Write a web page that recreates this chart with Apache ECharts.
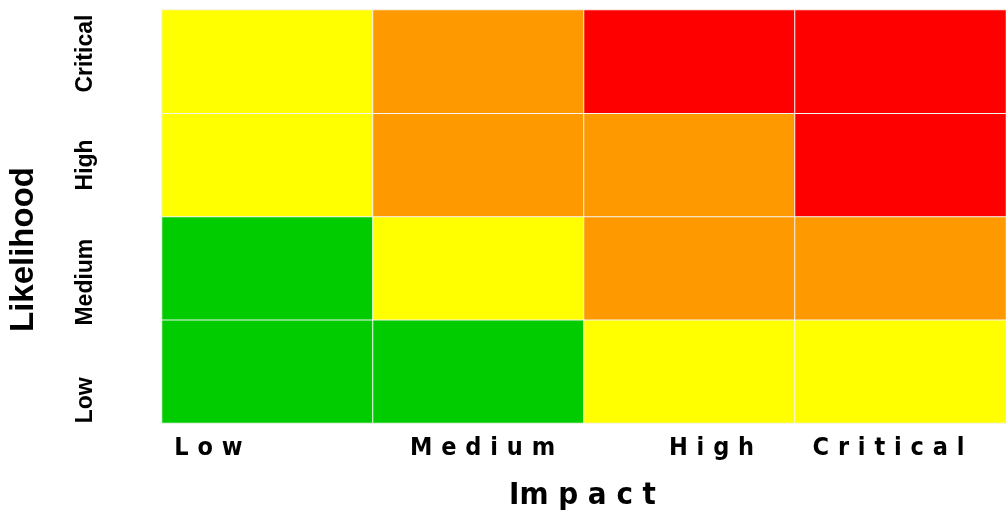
<!DOCTYPE html>
<html>
<head>
<meta charset="utf-8">
<script src="https://cdn.jsdelivr.net/npm/echarts@6/dist/echarts.min.js"></script>
<style>html,body{margin:0;padding:0;background:#fff}#c{width:1006px;height:528px}</style>
</head>
<body>
<div id="c"></div>
<script>
// Categories
const impactLevels = ['Low', 'Medium', 'High', 'Critical'];
const likelihoodLevels = ['Low', 'Medium', 'High', 'Critical'];
// Risk level (1 = low, 2 = moderate, 3 = high, 4 = critical) per likelihood row, columns = impact Low..Critical
const riskLikelihoodLow = [1, 1, 2, 2];
const riskLikelihoodMedium = [1, 2, 3, 3];
const riskLikelihoodHigh = [2, 3, 3, 4];
const riskLikelihoodCritical = [2, 3, 4, 4];

const rows = [riskLikelihoodLow, riskLikelihoodMedium, riskLikelihoodHigh, riskLikelihoodCritical];
const data = [];
rows.forEach((row, y) => row.forEach((v, x) => data.push([x, y, v])));

// label presentation tweaks (shift in px, + = right / up)
const xShift = { Low: -59, Medium: 4, High: 22, Critical: -12 };
const yShift = { Low: -29, Medium: -14, High: 0, Critical: 8 };

function spaced(s) {
  return s.split('').map(ch => '{a|' + ch + '}').join('{s| }');
}
function withShift(body, shift) {
  if (shift > 0) return '{w' + Math.round(2 * shift) + '| }' + body;
  if (shift < 0) return body + '{w' + Math.round(-2 * shift) + '| }';
  return body;
}
const narrow = "'Liberation Sans Narrow', 'DejaVu Sans Condensed', 'Liberation Sans', Arial, sans-serif";
const richX = {
  a: { fontFamily: narrow, fontWeight: 'bold', fontSize: 25, lineHeight: 30, color: '#000' },
  s: { fontFamily: narrow, fontSize: 31, lineHeight: 30 }
};
Object.values(xShift).forEach(v => { const w = Math.round(2 * Math.abs(v)); if (w) richX['w' + w] = { width: w, lineHeight: 30 }; });
const richY = {
  b: { fontFamily: "'Liberation Sans', Arial, sans-serif", fontWeight: 'bold', fontSize: 23, lineHeight: 26, color: '#000' }
};
Object.values(yShift).forEach(v => { const w = Math.round(2 * Math.abs(v)); if (w) richY['w' + w] = { width: w, lineHeight: 26 }; });

const chart = echarts.init(document.getElementById('c'));
chart.setOption({
  animation: false,
  backgroundColor: '#fff',
  grid: { left: 162, right: 0, top: 10, bottom: 105, containLabel: false, outerBoundsMode: 'none' },
  xAxis: {
    type: 'category',
    data: impactLevels,
    name: 'Im p a c t',
    nameLocation: 'middle',
    nameGap: 57,
    nameTextStyle: { fontFamily: narrow, fontWeight: 'bold', fontSize: 31, color: '#000', padding: [0, 3, 0, 0] },
    axisLine: { show: false },
    axisTick: { show: false },
    splitArea: { show: false },
    axisLabel: {
      interval: 0,
      margin: 10,
      formatter: v => withShift(spaced(v), xShift[v]),
      rich: richX
    }
  },
  yAxis: {
    type: 'category',
    data: likelihoodLevels,
    name: 'Likelihood',
    nameLocation: 'middle',
    nameRotate: 90,
    nameGap: 122,
    nameTextStyle: { fontFamily: "'Liberation Sans', Arial, sans-serif", fontWeight: 'bold', fontSize: 33, color: '#000', padding: [0, 66, 0, 0] },
    axisLine: { show: false },
    axisTick: { show: false },
    splitArea: { show: false },
    axisLabel: {
      interval: 0,
      rotate: 90,
      margin: 63,
      formatter: v => withShift('{b|' + v + '}', yShift[v]),
      rich: richY
    }
  },
  visualMap: {
    show: false,
    type: 'piecewise',
    dimension: 2,
    pieces: [
      { value: 1, color: '#00CC00' },
      { value: 2, color: '#FFFF00' },
      { value: 3, color: '#FF9900' },
      { value: 4, color: '#FF0000' }
    ]
  },
  series: [{
    type: 'heatmap',
    data: data,
    itemStyle: { borderColor: '#f4f4f0', borderWidth: 1 },
    label: { show: false },
    emphasis: { disabled: true }
  }]
});
</script>
</body>
</html>
